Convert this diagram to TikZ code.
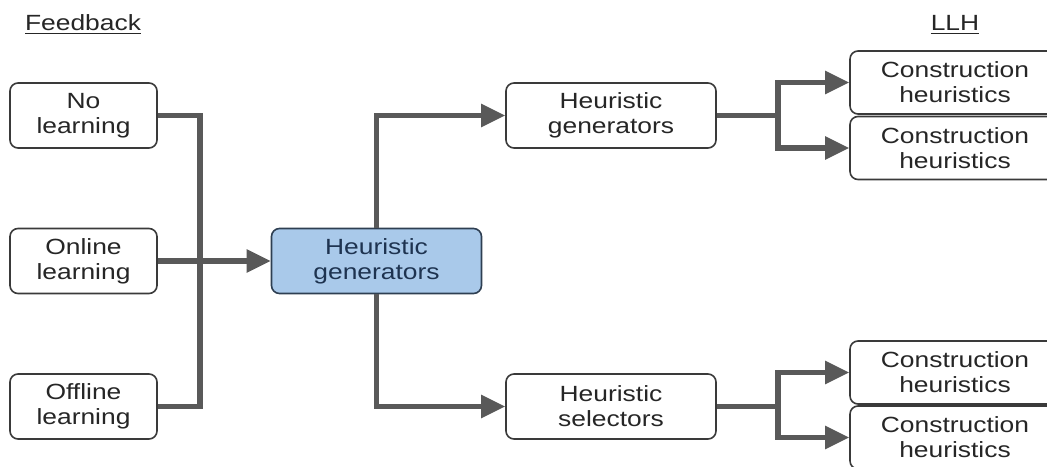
\documentclass[tikz,border=0pt]{standalone}
\usepackage{fontspec}
\setmainfont{Liberation Sans}[FakeStretch=1.2]
\usetikzlibrary{arrows.meta}
\definecolor{boxline}{HTML}{3A3A3A}
\definecolor{wire}{HTML}{595959}
\definecolor{hubfill}{HTML}{A9C9EA}
\definecolor{hubline}{HTML}{2E3F52}
\definecolor{hubtext}{HTML}{1E3350}
\tikzset{
  x=0.5pt, y=-0.5pt,
  every node/.style={font=\fontsize{11}{12.5}\selectfont, text=black!85},
  stage/.style={draw=boxline, line width=0.8pt, rounded corners=4pt, fill=white,
    align=center, inner sep=0pt, minimum width=73.5pt, minimum height=32.5pt},
  mid/.style={stage, minimum width=105pt},
  hub/.style={mid, fill=hubfill, draw=hubline, text=hubtext},
  llh/.style={stage, minimum width=105pt, minimum height=31.5pt},
  wirebase/.style={draw=wire, line width=2.6pt, line join=miter},
  feed/.style={wirebase, -{Triangle[length=12pt, width=11pt]}},
  title/.style={text=black!85}
}
\begin{document}
\begin{tikzpicture}
\clip (0,0) rectangle (1047,466);
\fill[white] (0,0) rectangle (1047,466);

% column headings
\node[title] (hfb) at (83,25) {\underline{Feedback}};
\node[title] (hllh) at (955,25) {\underline{LLH}};

% feedback sources
\node[stage] (nol) at (83.5,115.5) {No\\learning};
\node[stage] (onl) at (83.5,261) {Online\\learning};
\node[stage] (ofl) at (83.5,406.5) {Offline\\learning};

% central hub
\node[hub] (hg) at (376.5,261) {Heuristic\\generators};

% second stage
\node[mid] (gen) at (611,115.5) {Heuristic\\generators};
\node[mid] (sel) at (611,406.5) {Heuristic\\selectors};

% low level heuristics
\node[llh] (c1) at (955,82.5) {Construction\\heuristics};
\node[llh] (c2) at (955,148) {Construction\\heuristics};
\node[llh] (c3) at (955,372.5) {Construction\\heuristics};
\node[llh] (c4) at (955,437.5) {Construction\\heuristics};

% branching points
\coordinate (bus) at (200,261);
\coordinate (bgen) at (778,115.5);
\coordinate (bsel) at (778,406.5);

% feedback bus into the hub
\draw[wirebase] (nol.east) -| (bus) |- (ofl.east);
\draw[feed] (onl.east) -- (hg.west);

% hub to second stage
\draw[feed] (hg.north) |- (gen.west);
\draw[feed] (hg.south) |- (sel.west);

% second stage to low level heuristics
\draw[feed] (gen.east) -- (bgen) |- (c1.west);
\draw[feed] (bgen) |- (c2.west);
\draw[feed] (sel.east) -- (bsel) |- (c3.west);
\draw[feed] (bsel) |- (c4.west);
\end{tikzpicture}
\end{document}
